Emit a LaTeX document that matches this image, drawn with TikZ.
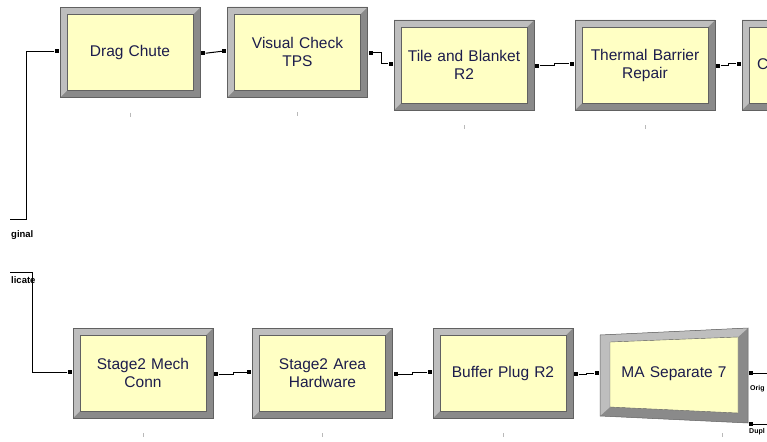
\documentclass[tikz,border=0pt]{standalone}
\usepackage{fontspec}
\setmainfont{Liberation Sans}
\usetikzlibrary{positioning}
\definecolor{modfill}{HTML}{FFFFC4}
\definecolor{bevlight}{HTML}{BEBEBE}
\definecolor{bevdark}{HTML}{8A8A8A}
\definecolor{modtext}{HTML}{1C1C4C}
\tikzset{
  modbox/.style={rectangle,fill=modfill,draw=bevdark!70!black,line width=.4pt,inner sep=0pt,
    minimum width=126pt,minimum height=76pt,text width=120pt,align=center,text=modtext,
    font=\fontsize{15.5}{18}\selectfont},
  port/.style={rectangle,fill=black,inner sep=0pt,minimum size=4pt},
  conn/.style={line width=1pt},
  tag/.style={font=\fontsize{9.5}{10}\selectfont\bfseries,inner sep=0pt},
  tick/.style={gray!55,line width=.7pt}
}

\begin{document}
\begin{tikzpicture}[x=1pt,y=-1pt]
  \path[use as bounding box,clip] (0,0) rectangle (767,441);
  \fill[white] (0,0) rectangle (767,441);
  % process modules
  \foreach \nm/\cx/\cy/\txt in {dc/130/52.5/{Drag Chute},vc/297.5/52/{Visual Check\\TPS},
      tb/464/65/{Tile and Blanket\\R2},tbr/645/65/{Thermal Barrier\\Repair},pc/812/65/{},
      smc/143/373/{Stage2 Mech\\Conn},sah/322.5/373/{Stage2 Area\\Hardware},bp/503/373/{Buffer Plug R2}}{
    \fill[bevdark] (\cx-70,\cy-45) rectangle (\cx+70,\cy+45);
    \fill[bevlight] (\cx-70,\cy+45) -- (\cx-70,\cy-45) -- (\cx+70,\cy-45) -- (\cx+63,\cy-38)
      -- (\cx-63,\cy-38) -- (\cx-63,\cy+38) -- cycle;
    \draw[bevdark!70!black,line width=.5pt] (\cx-70,\cy-45) rectangle (\cx+70,\cy+45);
    \node[modbox] (\nm) at (\cx,\cy) {\txt};
    \draw[tick] (\cx,\cy+60) -- ++(0,4);
    \node[port,left=8pt of \nm,yshift=1pt] (\nm-in) {};
    \node[port,right=8pt of \nm,yshift=-1pt] (\nm-out) {};
  }
  \node[text=modtext,font=\fontsize{15.5}{18}\selectfont,anchor=west,inner sep=0pt] (pctxt) at (757,64) {C};
  % separate module
  \fill[bevdark] (600,335) -- (748,328) -- (748,423) -- (600,416) -- cycle;
  \fill[bevlight] (600,416) -- (600,335) -- (748,328) -- (738,337) -- (610,342) -- (610,407) -- cycle;
  \filldraw[fill=modfill,draw=bevdark!70!black,line width=.4pt] (610,342) -- (738,337) -- (738,413) -- (610,407) -- cycle;
  \draw[bevdark!70!black,line width=.5pt] (600,335) -- (748,328) -- (748,423) -- (600,416) -- cycle;
  \node[modbox,fill=none,draw=none] (mas) at (674,374) {MA Separate 7};
  \draw[tick] (722,433) -- ++(0,4);
  \node[port,left=12pt of mas,yshift=1pt] (mas-in) {};
  \node[port] (mas-orig) at (751,373) {};
  \node[port] (mas-dup) at (751,424) {};
  \coordinate (origend) at (767,373);
  \coordinate (dupend) at (767,424);
  % connectors
  \draw[conn] (dc-out) -- (vc-in);
  \draw[conn] (vc-out) -- ++(11,0) |- (tb-in);
  \draw[conn] (tb-out) -- ++(17,0) |- (tbr-in);
  \draw[conn] (tbr-out) -- ++(10,0) |- (pc-in);
  \draw[conn] (smc-out) -- ++(17,0) |- (sah-in);
  \draw[conn] (sah-out) -- ++(17,0) |- (bp-in);
  \draw[conn] (bp-out) -- ++(10,0) |- (mas-in);
  \draw[conn] (mas-orig) -- (origend);
  \draw[conn] (mas-dup) -- (dupend);
  \coordinate (dcfeed) at (10,219);
  \coordinate (smcfeed) at (10,272);
  \draw[conn] (dc-in) -- ++(-30,0) |- (dcfeed);
  \draw[conn] (smc-in) -- ++(-37,0) |- (smcfeed);
  % exit labels
  \node[tag,anchor=base west] (orglbl) at (11,237) {ginal};
  \node[tag,anchor=base west] (duplbl) at (11,283) {licate};
  \node[tag,anchor=base west,font=\fontsize{7}{8}\selectfont\bfseries] (origlbl) at (750,390) {Orig};
  \node[tag,anchor=base west,font=\fontsize{7}{8}\selectfont\bfseries] (dupllbl) at (749,433) {Dupl};
\end{tikzpicture}
\end{document}
